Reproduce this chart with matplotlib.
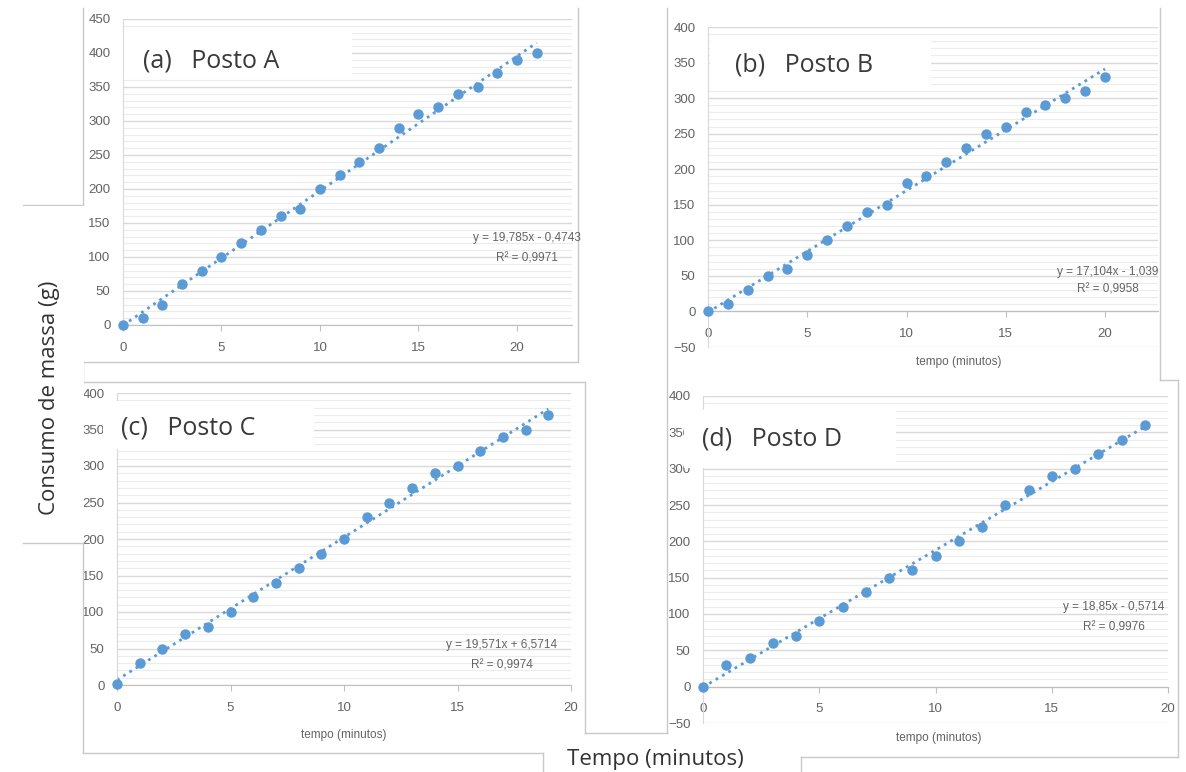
import numpy as np
import matplotlib
matplotlib.use("Agg")
import matplotlib.pyplot as plt
from matplotlib.lines import Line2D
from matplotlib.patches import Rectangle
from matplotlib.ticker import MultipleLocator, FixedLocator

plt.rcParams["font.family"] = ["Liberation Sans", "DejaVu Sans"]

W, H = 1186, 772

# data (tempo em minutos, consumo em g)
t_a = [0, 1, 2, 3, 4, 5, 6, 7, 8, 9, 10, 11, 12, 13, 14, 15, 16, 17, 18, 19, 20, 21]
m_a = [0, 10, 30, 60, 80, 100, 120, 140, 160, 170, 200, 220, 240, 260, 290, 310, 320, 340, 350, 370, 390, 400]

t_b = [0, 1, 2, 3, 4, 5, 6, 7, 8, 9, 10, 11, 12, 13, 14, 15, 16, 17, 18, 19, 20]
m_b = [0, 10, 30, 50, 60, 80, 100, 120, 140, 150, 180, 190, 210, 230, 250, 260, 280, 290, 300, 310, 330]

t_c = [0, 1, 2, 3, 4, 5, 6, 7, 8, 9, 10, 11, 12, 13, 14, 15, 16, 17, 18, 19]
m_c = [2, 30, 50, 70, 80, 100, 120, 140, 160, 180, 200, 230, 250, 270, 290, 300, 320, 340, 350, 370]

t_d = [0, 1, 2, 3, 4, 5, 6, 7, 8, 9, 10, 11, 12, 13, 14, 15, 16, 17, 18, 19]
m_d = [0, 30, 40, 60, 70, 90, 110, 130, 150, 160, 180, 200, 220, 250, 270, 290, 300, 320, 340, 360]

titles = ["(a)   Posto A", "(b)   Posto B", "(c)   Posto C", "(d)   Posto D"]
eq_lines = ["y = 19,785x - 0,4743", "y = 17,104x - 1,039", "y = 19,571x + 6,5714", "y = 18,85x - 0,5714"]
r2_lines = ["R² = 0,9971", "R² = 0,9958", "R² = 0,9974", "R² = 0,9976"]

BLUE = "#5b9bd5"
TXT = "#636363"
FRAME = "#c8c8c8"

fig = plt.figure(figsize=(W / 100, H / 100), dpi=100)


def fx(x):
    return x / W


def fy(y):
    return 1 - y / H


def add_ax(left, top, right, bottom):
    return fig.add_axes([fx(left), fy(bottom), (right - left) / W, (bottom - top) / H])


def style(ax, xmax, ymin, ymax):
    ax.set_xlim(0, xmax)
    ax.set_ylim(ymin, ymax)
    ax.yaxis.set_major_locator(MultipleLocator(50))
    # minor gridlines only above zero, like the Excel charts
    ax.yaxis.set_minor_locator(FixedLocator([v for v in range(10, ymax, 10) if v % 50]))
    ax.xaxis.set_major_locator(MultipleLocator(5))
    ax.grid(axis="y", which="major", color="#d9d9d9", lw=1)
    ax.grid(axis="y", which="minor", color="#ececec", lw=0.8)
    ax.set_axisbelow(True)
    for s in ["top", "right"]:
        ax.spines[s].set_visible(False)
    ax.spines["left"].set_color("#d9d9d9")
    ax.spines["bottom"].set_color("#bfbfbf")
    ax.spines["bottom"].set_position(("data", 0))
    ax.tick_params(axis="y", which="both", length=0, pad=9, labelsize=9.5, labelcolor=TXT)
    ax.tick_params(axis="x", length=4, color="#bfbfbf", pad=8, labelsize=9.5, labelcolor=TXT)
    ax.set_facecolor("none")


def draw(ax, t, m):
    k, b = np.polyfit(t, m, 1)
    tt = np.array([0, max(t)])
    ax.plot(tt, k * tt + b, ls=":", color=BLUE, lw=2, zorder=2)
    ax.plot(t, m, "o", color=BLUE, ms=6.5, zorder=3, clip_on=False)


# panel axes (pixel boxes)
ax_a = add_ax(123, 19, 572, 325)
style(ax_a, (572 - 123) / 19.7, 0, 450)
draw(ax_a, t_a, m_a)

ax_b = add_ax(708, 27, 1158, 347)
style(ax_b, (1158 - 708) / 19.85, -50, 400)
draw(ax_b, t_b, m_b)

ax_c = add_ax(117, 393, 571, 685)
style(ax_c, 20, 0, 400)
draw(ax_c, t_c, m_c)

ax_d = add_ax(703, 396, 1168, 723)
style(ax_d, 20, -50, 400)
draw(ax_d, t_d, m_d)

# frames of the pasted chart pictures
frame_segs = [
    ((83, 8), (83, 205)), ((23, 205), (83, 205)), ((23, 543), (83, 543)),
    ((83, 362), (83, 382)), ((83, 543), (83, 753)),
    ((578, 8), (578, 362)), ((83, 362), (578, 362)),
    ((83, 382), (585, 382)), ((585, 382), (585, 733)), ((585, 733), (667, 733)),
    ((83, 753), (543, 753)), ((543, 753), (543, 772)),
    ((667, 8), (667, 733)),
    ((1160, 8), (1160, 380)), ((1160, 380), (1178, 380)), ((1178, 380), (1178, 757)),
    ((801, 757), (1178, 757)), ((801, 757), (801, 772)),
]
for (x0, y0), (x1, y1) in frame_segs:
    fig.add_artist(Line2D([fx(x0), fx(x1)], [fy(y0), fy(y1)], color=FRAME, lw=1,
                          transform=fig.transFigure, zorder=1))

# white title boxes over the plots
title_boxes = [(124, 31, 352, 78), (710, 38, 931, 88), (103, 401, 314, 449), (684, 410, 896, 468)]
title_pos = [(143, 61), (735, 65), (121, 428), (702, 439)]
for (l, t, r, b), (tx, ty), lab in zip(title_boxes, title_pos, titles):
    fig.add_artist(Rectangle((fx(l), fy(b)), (r - l) / W, (b - t) / H, facecolor="white",
                             edgecolor="none", transform=fig.transFigure, zorder=2))
    fig.text(fx(tx), fy(ty), lab, fontsize=18, color="#3a3a3a", ha="left", va="center",
             family=["Open Sans", "DejaVu Sans"], zorder=3)

# trendline equations
eq_pos = [(527, 238, 258), (1108, 272, 290), (502, 645, 665), (1114, 607, 627)]
for (cx, y1, y2), e, r in zip(eq_pos, eq_lines, r2_lines):
    fig.text(fx(cx), fy(y1), e, fontsize=8.5, color=TXT, ha="center", va="center", zorder=3)
    fig.text(fx(cx), fy(y2), r, fontsize=8.5, color=TXT, ha="center", va="center", zorder=3)

# small axis titles inside panels b, c, d
for cx, cy in [(959, 362), (344, 735), (939, 738)]:
    fig.text(fx(cx), fy(cy), "tempo (minutos)", fontsize=8.5, color=TXT, ha="center", va="center")

# global labels
fig.add_artist(Rectangle((fx(23), fy(542)), 61 / W, 336 / H, facecolor="white",
                         edgecolor="none", transform=fig.transFigure, zorder=2))
fig.text(fx(50), fy(398), "Consumo de massa (g)", rotation=90, fontsize=16, color="#333333",
         ha="center", va="center", family=["Open Sans", "DejaVu Sans"], zorder=3)
fig.text(fx(655), fy(760), "Tempo (minutos)", fontsize=16, color="#333333",
         ha="center", va="center", family=["Open Sans", "DejaVu Sans"], zorder=3)

fig.savefig("out.png", dpi=100, facecolor="white")
